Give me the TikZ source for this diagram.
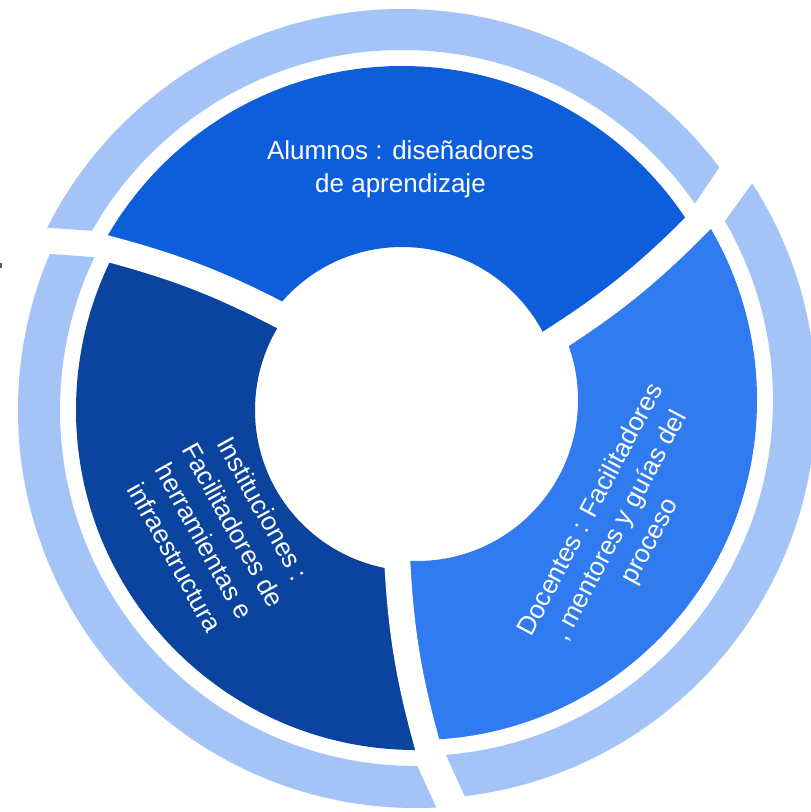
\documentclass[tikz,border=0pt]{standalone}
\usepackage{fontspec}
\setmainfont{Liberation Sans}
\definecolor{alumc}{HTML}{0E5EDC}
\definecolor{instc}{HTML}{0B449E}
\definecolor{docc}{HTML}{317BF1}
\definecolor{ringc}{HTML}{A4C4F7}
\tikzset{
  lbl/.style={text=white, font=\fontsize{26}{33.5}\selectfont, align=center, inner sep=0pt},
  gapband/.style={draw=white, line width=26pt},
}
\begin{document}
\begin{tikzpicture}[x=1pt,y=-1pt]
\useasboundingbox[fill=white] (0,0) rectangle (811,812);
% reference points
\coordinate (C) at (410,405);
\coordinate (TL) at (-200,-200); \coordinate (TR) at (1100,-200);
\coordinate (BR) at (1100,1100); \coordinate (BL) at (-200,1100);
\coordinate (cA) at (402,406); \coordinate (cI) at (416,410); \coordinate (cD) at (417,400);
% segment gap chords
\coordinate (IA) at (277.5,317); \coordinate (OA) at (107.5,251); \coordinate (FA) at (-32.3,196.7);
\coordinate (IB) at (555,336);   \coordinate (OB) at (695.5,222.5); \coordinate (FB) at (812.2,128.3);
\coordinate (IC) at (400.3,565); \coordinate (OC) at (429.7,744.7); \coordinate (FC) at (453.9,892.7);
% extended gap band ends
\coordinate (IAx) at (300.8,326);   \coordinate (OAx) at (88.9,243.8);
\coordinate (IBx) at (535.5,351.7); \coordinate (OBx) at (711.1,209.9);
\coordinate (ICx) at (396.3,540.3); \coordinate (OCx) at (432.9,764.4);
% ring gap edges
\coordinate (rAti) at (196.4,237.7); \coordinate (rAto) at (-152.9,214.4);
\coordinate (rAli) at (199.6,264.4); \coordinate (rAlo) at (-149.5,240.1);
\coordinate (rBti) at (649.4,271.4); \coordinate (rBto) at (805.4,39);
\coordinate (rBri) at (678.2,285.9); \coordinate (rBro) at (842,58.8);
\coordinate (rCli) at (384.9,695.6); \coordinate (rClo) at (501.9,950.1);
\coordinate (rCri) at (413.4,684);   \coordinate (rCro) at (529.9,938.5);

% segments
\begin{scope}
\clip (C) -- (IA) -- (OA) -- (FA) -- (TL) -- (TR) -- (FB) -- (OB) -- (IB) -- cycle;
\fill[alumc, even odd rule] (cA) circle[radius=340pt] (cA) circle[radius=159pt];
\end{scope}
\begin{scope}
\clip (C) -- (IA) -- (OA) -- (FA) -- (BL) -- (FC) -- (OC) -- (IC) -- cycle;
\fill[instc, even odd rule] (cI) circle[radius=340pt] (cI) circle[radius=161pt];
\end{scope}
\begin{scope}
\clip (C) -- (IB) -- (OB) -- (FB) -- (BR) -- (FC) -- (OC) -- (IC) -- cycle;
\fill[docc, even odd rule] (cD) circle[radius=340pt] (cD) circle[radius=161pt];
\end{scope}
% curved gaps between segments
\draw[gapband] (IAx) to[bend right=7] (OAx);
\draw[gapband] (IBx) to[bend right=7] (OBx);
\draw[gapband] (ICx) to[bend right=7] (OCx);

% outer ring pieces
\begin{scope}
\clip (C) -- (rAti) -- (rAto) -- (TL) -- (TR) -- (rBto) -- (rBti) -- cycle;
\fill[ringc, even odd rule] (cA) circle[radius=397pt] (cA) circle[radius=356pt];
\end{scope}
\begin{scope}
\clip (C) -- (rAli) -- (rAlo) -- (BL) -- (rClo) -- (rCli) -- cycle;
\fill[ringc, even odd rule] (cI) circle[radius=398pt] (cI) circle[radius=356pt];
\end{scope}
\begin{scope}
\clip (C) -- (rBri) -- (rBro) -- (BR) -- (rCro) -- (rCri) -- cycle;
\fill[ringc, even odd rule] (cD) circle[radius=399pt] (cD) circle[radius=356pt];
\end{scope}

% small mark at left edge
\fill[black!65] (0,263) rectangle (1.5,267.5);

% labels
\node[lbl] (alum) at (400.5,169.5) {Alumnos : diseñadores\\de aprendizaje};
\node[lbl, rotate=62] (doc) at (621,526) {Docentes : Facilitadores\\, mentores y guías del\\proceso};
\node[lbl, rotate=-61] (inst) at (219,533) {Instituciones :\\Facilitadores de\\herramientas e\\infraestructura};
\end{tikzpicture}
\end{document}
